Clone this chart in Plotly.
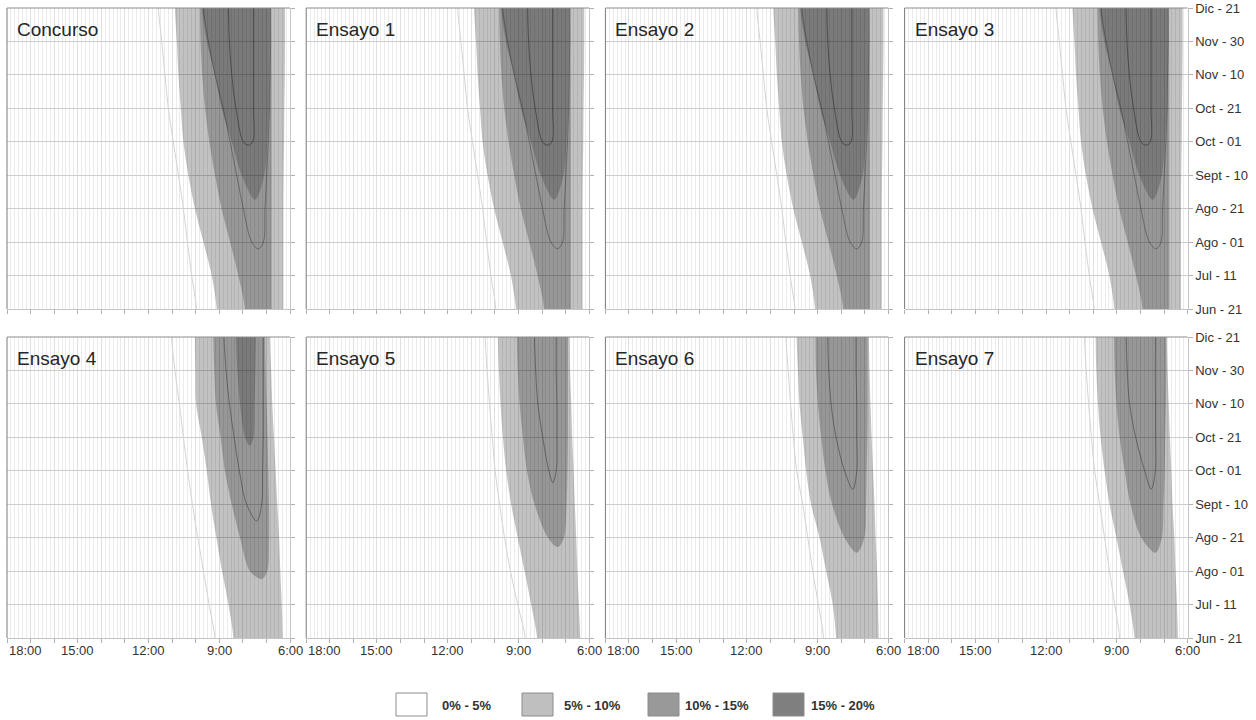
import plotly.graph_objects as go

# ---------------- data ----------------
DATE_LABELS = ["Jun - 21", "Jul - 11", "Ago - 01", "Ago - 21", "Sept - 10",
               "Oct - 01", "Oct - 21", "Nov - 10", "Nov - 30", "Dic - 21"]
ROW_DATES = [9, 8, 7, 6, 5, 4, 3, 2, 1, 0]      # date index of each edge value (top first)
HOUR_TICKS = [18, 15, 12, 9, 6]
HOUR_LABELS = ["18:00", "15:00", "12:00", "9:00", "6:00"]
PANEL_TITLES = ["Concurso", "Ensayo 1", "Ensayo 2", "Ensayo 3",
                "Ensayo 4", "Ensayo 5", "Ensayo 6", "Ensayo 7"]
LEGEND_LABELS = ["0% - 5%", "5% - 10%", "10% - 15%", "15% - 20%"]
LEGEND_COLORS = ["#ffffff", "#bfbfbf", "#999999", "#7f7f7f"]

# Concurso (Ensayo 1-3 read identical) - clock hours at each date, top first
C_FAINT = [11.58, 11.44, 11.30, 11.16, 10.95, 10.73, 10.52, 10.35, 10.17, 9.96]
C_L5_LEFT = [10.88, 10.80, 10.73, 10.63, 10.52, 10.31, 10.03, 9.67, 9.32, 9.11]
C_L5_RIGHT = [6.21, 6.21, 6.22, 6.24, 6.25, 6.27, 6.28, 6.28, 6.28, 6.28]
C_L10_LEFT = [9.82, 9.79, 9.72, 9.60, 9.42, 9.18, 8.90, 8.54, 8.19, 7.91]
C_L10_RIGHT = [6.80, 6.79, 6.78, 6.78, 6.78, 6.78, 6.78, 6.78, 6.78, 6.78]
C_L15_LEFT = [9.74, 9.53, 9.18, 8.90, 8.47, 8.05]
C_L15_RIGHT = [6.85, 6.85, 6.87, 6.89, 6.96, 7.09]
C_L15_TIP = [7.48, 3.27]
C_H17_LEFT = [8.61, 8.57, 8.47, 8.29, 7.98]
C_H17_RIGHT = [7.55, 7.55, 7.55, 7.55, 7.58]
C_H17_TIP = [7.77, 4.9]
C_H12_LEFT = [9.67, 9.46, 9.18, 8.83, 8.54, 8.26, 7.98, 7.62]
C_H12_RIGHT = [6.82, 6.82, 6.85, 6.87, 6.92, 6.99, 7.06, 7.13]
C_H12_TIP = [7.34, 1.8]

# Ensayo 4
E4_FAINT = [11.02, 10.88, 10.69, 10.52, 10.34, 10.14, 9.91, 9.67, 9.43, 9.18]
E4_L5_LEFT = [10.03, 10.01, 9.98, 9.74, 9.53, 9.35, 9.12, 8.88, 8.61, 8.40]
E4_L5_RIGHT = [6.85, 6.80, 6.75, 6.68, 6.61, 6.54, 6.46, 6.41, 6.35, 6.31]
E4_L10_LEFT = [9.25, 9.21, 9.14, 8.94, 8.76, 8.47, 8.12, 7.70]
E4_L10_RIGHT = [7.06, 7.03, 6.99, 6.95, 6.92, 6.89, 6.89, 6.96]
E4_L10_TIP = [7.20, 1.76]
E4_L15_LEFT = [8.29, 8.23, 8.12, 7.91]
E4_L15_RIGHT = [7.44, 7.47, 7.50, 7.55]
E4_L15_TIP = [7.70, 5.75]
E4_H12_LEFT = [8.80, 8.71, 8.57, 8.37, 8.15, 7.84]
E4_H12_RIGHT = [7.13, 7.13, 7.13, 7.13, 7.16, 7.20]
E4_H12_TIP = [7.41, 3.5]

# Ensayo 5
E5_FAINT = [10.41, 10.33, 10.23, 10.11, 9.99, 9.80, 9.59, 9.34, 9.03, 8.71]
E5_L5_LEFT = [9.87, 9.83, 9.76, 9.66, 9.52, 9.31, 9.03, 8.74, 8.46, 8.21]
E5_L5_RIGHT = [6.83, 6.81, 6.76, 6.72, 6.66, 6.61, 6.55, 6.50, 6.44, 6.38]
E5_L10_LEFT = [9.07, 9.03, 8.95, 8.81, 8.64, 8.32, 7.75]
E5_L10_RIGHT = [6.90, 6.90, 6.90, 6.90, 6.92, 6.96, 7.07]
E5_L10_TIP = [7.33, 2.72]
E5_H12_LEFT = [8.32, 8.27, 8.18, 7.97, 7.71]
E5_H12_RIGHT = [7.40, 7.40, 7.37, 7.37, 7.40]
E5_H12_TIP = [7.54, 4.65]

# Ensayo 6
E6_FAINT = [10.34, 10.25, 10.15, 10.03, 9.89, 9.63, 9.42, 9.21, 8.97, 8.75]
E6_L5_LEFT = [9.89, 9.84, 9.77, 9.63, 9.49, 9.28, 8.92, 8.64, 8.36, 8.22]
E6_L5_RIGHT = [6.83, 6.80, 6.76, 6.71, 6.65, 6.59, 6.54, 6.48, 6.44, 6.41]
E6_L10_LEFT = [9.09, 9.07, 8.99, 8.85, 8.67, 8.39, 7.86]
E6_L10_RIGHT = [6.88, 6.88, 6.88, 6.89, 6.92, 6.95, 7.02]
E6_L10_TIP = [7.34, 2.55]
E6_H12_LEFT = [8.57, 8.53, 8.43, 8.22, 7.86]
E6_H12_RIGHT = [7.37, 7.37, 7.34, 7.34, 7.34]
E6_H12_TIP = [7.51, 4.45]

# Ensayo 7
E7_FAINT = [10.37, 10.30, 10.20, 10.08, 9.94, 9.73, 9.52, 9.31, 9.09, 8.88]
E7_L5_LEFT = [9.90, 9.87, 9.80, 9.69, 9.52, 9.31, 9.02, 8.74, 8.46, 8.25]
E7_L5_RIGHT = [6.88, 6.85, 6.80, 6.75, 6.69, 6.64, 6.56, 6.51, 6.45, 6.41]
E7_L10_LEFT = [9.12, 9.09, 9.02, 8.88, 8.67, 8.42, 7.96]
E7_L10_RIGHT = [6.90, 6.90, 6.92, 6.95, 6.97, 7.02, 7.09]
E7_L10_TIP = [7.36, 2.55]
E7_H12_LEFT = [8.60, 8.56, 8.46, 8.20, 7.82]
E7_H12_RIGHT = [7.36, 7.37, 7.36, 7.36, 7.37]
E7_H12_TIP = [7.54, 4.45]

CONCURSO = dict(faint=C_FAINT, l5=(C_L5_LEFT, C_L5_RIGHT, None), l10=(C_L10_LEFT, C_L10_RIGHT, None),
                l15=(C_L15_LEFT, C_L15_RIGHT, C_L15_TIP),
                hooks=[(C_H12_LEFT, C_H12_RIGHT, C_H12_TIP, 0.40), (C_H17_LEFT, C_H17_RIGHT, C_H17_TIP, 0.55)])
PANELS = [
    CONCURSO, CONCURSO, CONCURSO, CONCURSO,
    dict(faint=E4_FAINT, l5=(E4_L5_LEFT, E4_L5_RIGHT, None), l10=(E4_L10_LEFT, E4_L10_RIGHT, E4_L10_TIP),
         l15=(E4_L15_LEFT, E4_L15_RIGHT, E4_L15_TIP), hooks=[(E4_H12_LEFT, E4_H12_RIGHT, E4_H12_TIP, 0.45)]),
    dict(faint=E5_FAINT, l5=(E5_L5_LEFT, E5_L5_RIGHT, None), l10=(E5_L10_LEFT, E5_L10_RIGHT, E5_L10_TIP),
         l15=None, hooks=[(E5_H12_LEFT, E5_H12_RIGHT, E5_H12_TIP, 0.45)]),
    dict(faint=E6_FAINT, l5=(E6_L5_LEFT, E6_L5_RIGHT, None), l10=(E6_L10_LEFT, E6_L10_RIGHT, E6_L10_TIP),
         l15=None, hooks=[(E6_H12_LEFT, E6_H12_RIGHT, E6_H12_TIP, 0.45)]),
    dict(faint=E7_FAINT, l5=(E7_L5_LEFT, E7_L5_RIGHT, None), l10=(E7_L10_LEFT, E7_L10_RIGHT, E7_L10_TIP),
         l15=None, hooks=[(E7_H12_LEFT, E7_H12_RIGHT, E7_H12_TIP, 0.45)]),
]

# ---------------- layout constants ----------------
W, H = 1256, 720
COL_LEFT = [7, 306.2, 605.4, 904.6]
PANEL_W = 283
ROW_TOP = [8, 337]
PANEL_H = 301
TOP_EXT, BOT_EXT = 9.7, -0.7
FONT = "Liberation Sans, Arial, sans-serif"
FILL = {"l5": "rgba(0,0,0,0.24)", "l10": "rgba(0,0,0,0.22)", "l15": "rgba(0,0,0,0.19)"}


def full_path(left, right):
    ys = ROW_DATES[:len(left)]
    xs = [left[0]] + list(left) + [left[-1], right[-1]] + list(right[::-1]) + [right[0]]
    yy = [TOP_EXT] + ys + [BOT_EXT, BOT_EXT] + ys[::-1] + [TOP_EXT]
    return xs, yy


def tip_path(left, right, tip):
    ys = ROW_DATES[:len(left)]
    xs = [left[0]] + list(left) + [tip[0]] + list(right[::-1]) + [right[0]]
    yy = [TOP_EXT] + ys + [tip[1]] + ys[::-1] + [TOP_EXT]
    return xs, yy


fig = go.Figure()
shapes, annotations = [], []

for i, pdata in enumerate(PANELS):
    n = i + 1
    r, c = divmod(i, 4)
    xa = "x" if n == 1 else f"x{n}"
    ya = "y" if n == 1 else f"y{n}"

    for key in ("l5", "l10", "l15"):
        spec = pdata[key]
        if spec is None:
            continue
        left, right, tip = spec
        xs, yy = full_path(left, right) if tip is None else tip_path(left, right, tip)
        fig.add_trace(go.Scatter(x=xs, y=yy, xaxis=xa, yaxis=ya, mode="lines", fill="toself",
                                 fillcolor=FILL[key], line=dict(width=0, shape="spline", smoothing=0.9),
                                 hoverinfo="skip", showlegend=False))

    f = pdata["faint"]
    fig.add_trace(go.Scatter(x=[f[0]] + f + [f[-1]], y=[TOP_EXT] + ROW_DATES + [BOT_EXT],
                             xaxis=xa, yaxis=ya, mode="lines",
                             line=dict(color="#d4d4d4", width=1, shape="spline"),
                             hoverinfo="skip", showlegend=False))
    for left, right, tip, alpha in pdata["hooks"]:
        xs, yy = tip_path(left, right, tip)
        fig.add_trace(go.Scatter(x=xs, y=yy, xaxis=xa, yaxis=ya, mode="lines",
                                 line=dict(color=f"rgba(40,40,40,{alpha})", width=1, shape="spline"),
                                 hoverinfo="skip", showlegend=False))

    x0p = COL_LEFT[c] / W
    x1p = (COL_LEFT[c] + PANEL_W) / W
    y1p = 1 - ROW_TOP[r] / H
    y0p = 1 - (ROW_TOP[r] + PANEL_H) / H
    fig.update_layout(**{
        ("xaxis" if n == 1 else f"xaxis{n}"): dict(
            domain=[x0p, x1p], range=[18, 6], anchor=ya, tick0=6, dtick=1, automargin=False,
            ticks="outside", ticklen=4, tickcolor="#b0b0b0", showticklabels=False,
            showgrid=True, gridcolor="#e0e0e0", gridwidth=1,
            minor=dict(dtick=1 / 6, showgrid=True, gridcolor="#ebebeb", gridwidth=1),
            showline=True, linecolor="#c4c4c4", linewidth=1, zeroline=False, fixedrange=True),
        ("yaxis" if n == 1 else f"yaxis{n}"): dict(
            domain=[y0p, y1p], range=[0, 9], anchor=xa, side="right", automargin=False,
            tickvals=list(range(len(DATE_LABELS))), ticktext=DATE_LABELS,
            showticklabels=(c == 3), ticks="outside", ticklen=4, tickcolor="#b0b0b0",
            tickfont=dict(family=FONT, size=13, color="#333333"),
            showgrid=True, gridcolor="#cdcdcd", gridwidth=1,
            showline=True, linecolor="#c4c4c4", linewidth=1, zeroline=False, fixedrange=True),
    })

    shapes.append(dict(type="line", xref=f"{xa} domain", yref=f"{ya} domain", x0=0, x1=0, y0=0, y1=1,
                       line=dict(color="#7a7a7a", width=1)))
    shapes.append(dict(type="line", xref=f"{xa} domain", yref=f"{ya} domain", x0=0, x1=1, y0=1, y1=1,
                       line=dict(color="#8c8c8c", width=1)))

    annotations.append(dict(text=PANEL_TITLES[i], xref=f"{xa} domain", yref=f"{ya} domain", x=0, y=1,
                            xanchor="left", yanchor="top", xshift=8, yshift=-9, showarrow=False,
                            font=dict(family=FONT, size=19, color="#262626")))
    if r == 1:
        for hv, lab in zip(HOUR_TICKS, HOUR_LABELS):
            annotations.append(dict(text=lab, xref=xa, yref=f"{ya} domain", x=hv, y=0,
                                    xanchor="left" if hv == 18 else "center", yanchor="top",
                                    yshift=-3, showarrow=False,
                                    font=dict(family=FONT, size=13, color="#333333")))

# legend drawn with boxes + labels
LEG_BOX_X = [396, 522, 648, 773]
LEG_TEXT_X = [440, 562, 683, 809]
for k, (lab, col) in enumerate(zip(LEGEND_LABELS, LEGEND_COLORS)):
    shapes.append(dict(type="rect", xref="paper", yref="paper",
                       x0=LEG_BOX_X[k] / W, x1=(LEG_BOX_X[k] + 31) / W,
                       y0=1 - 716 / H, y1=1 - 693 / H,
                       fillcolor=col, line=dict(color="#8c8c8c", width=1)))
    annotations.append(dict(text=f"<b>{lab}</b>", xref="paper", yref="paper",
                            x=LEG_TEXT_X[k] / W, y=1 - 705 / H, xanchor="left", yanchor="middle",
                            showarrow=False, font=dict(family=FONT, size=13, color="#333333")))

fig.update_layout(width=W, height=H, margin=dict(l=0, r=0, t=0, b=0, autoexpand=False),
                  paper_bgcolor="white", plot_bgcolor="white",
                  shapes=shapes, annotations=annotations, showlegend=False)

fig.write_html("out.html", config={"displayModeBar": False},
               post_script="document.body.style.margin='0';document.body.style.overflow='hidden';")
